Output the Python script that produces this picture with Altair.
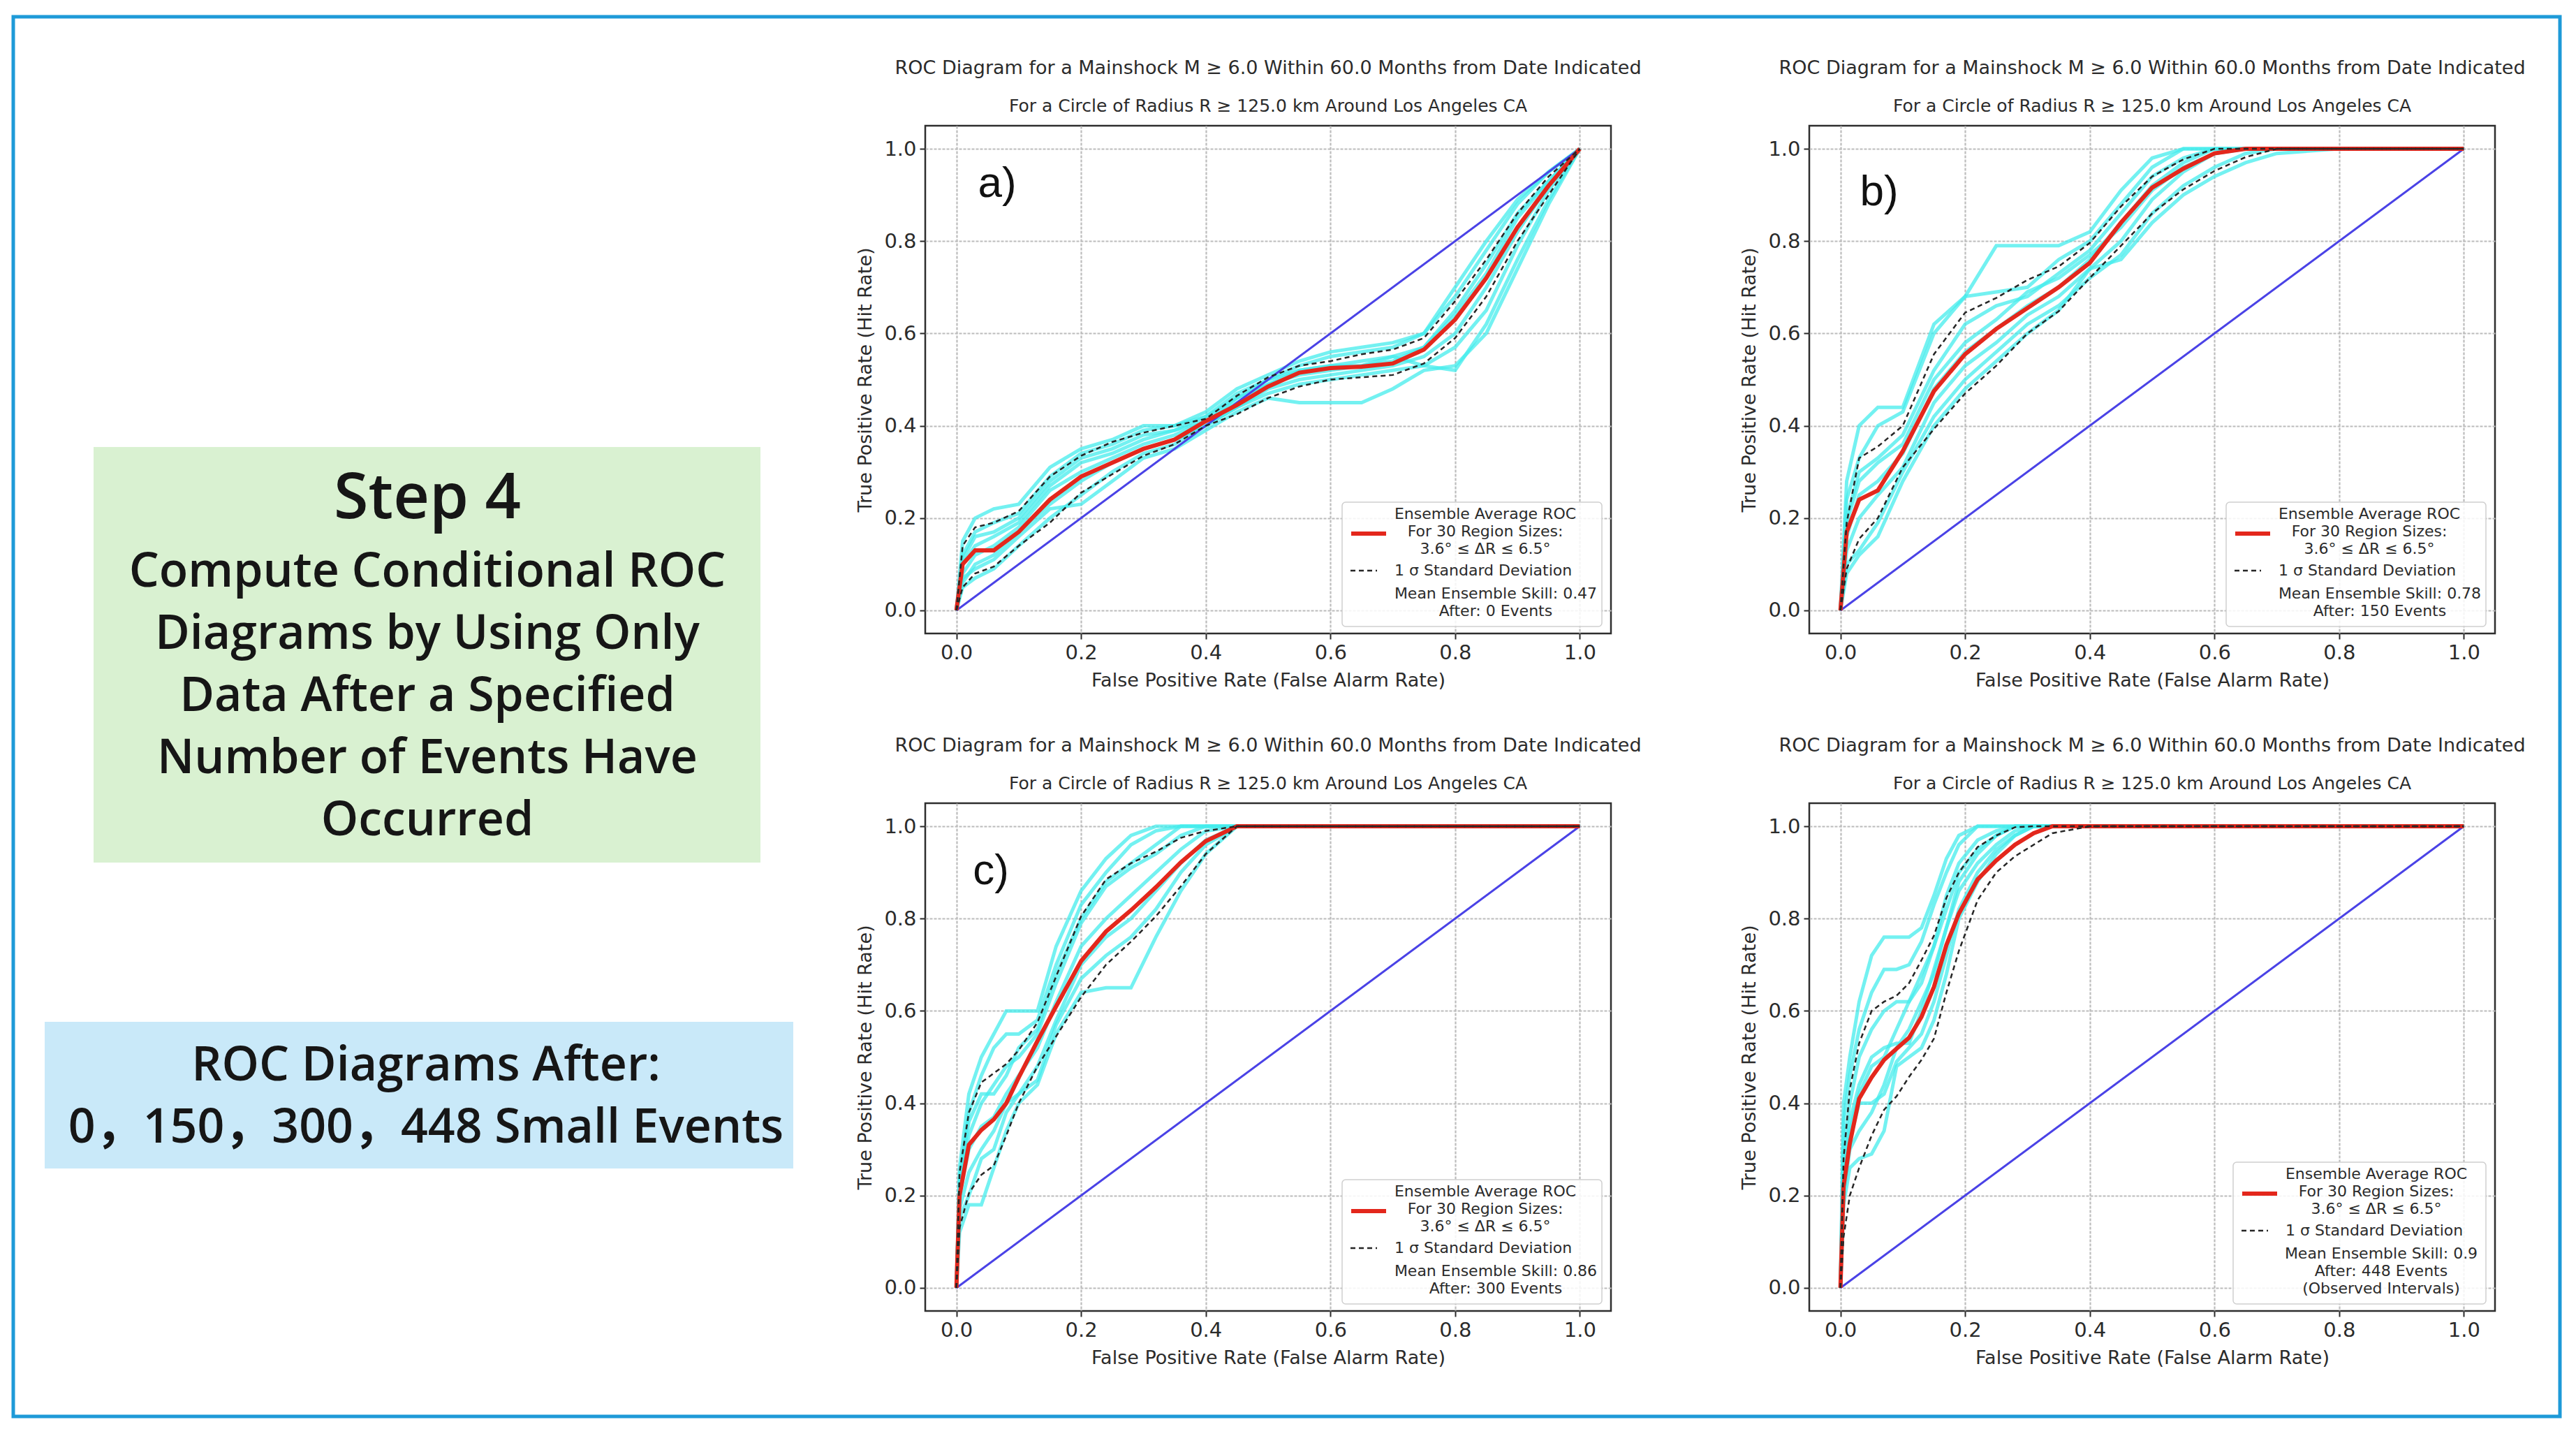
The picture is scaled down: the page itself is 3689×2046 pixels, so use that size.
import altair as alt
import pandas as pd

# ---------------------------------------------------------------- text
TITLE = "ROC Diagram for a Mainshock M \u2265 6.0 Within 60.0 Months from Date Indicated"
SUBTITLE = "For a Circle of Radius R \u2265 125.0 km Around Los Angeles CA"
X_TITLE = "False Positive Rate (False Alarm Rate)"
Y_TITLE = "True Positive Rate (Hit Rate)"
TICKS = [0.0, 0.2, 0.4, 0.6, 0.8, 1.0]
DIAG = [0.0, 1.0]

LEGEND_MEAN = ["Ensemble Average ROC", "For 30 Region Sizes:", "3.6\u00b0 \u2264 \u0394R \u2264 6.5\u00b0"]
LEGEND_STD = "1 \u03c3 Standard Deviation"

STEP_HEAD = "Step 4"
STEP_BODY = ["Compute Conditional ROC", "Diagrams by Using Only", "Data After a Specified",
             "Number of Events Have", "Occurred"]
AFTER_LINES = ["ROC Diagrams After:", "0\uff0c150\uff0c300\uff0c448 Small Events"]

# ---------------------------------------------------------------- panel a) after 0 events
A_FPR = [0, .01, .03, .06, .10, .15, .20, .25, .30, .35, .40, .45, .50, .55, .60, .65, .70, .75, .80, .85, .90, .95, 1.0]
A_MEAN = [0, .10, .13, .13, .17, .24, .29, .32, .35, .37, .41, .445, .485, .515, .525, .528, .535, .565, .63, .72, .83, .92, 1.0]
A_UPPER = [0, .14, .18, .19, .215, .29, .335, .365, .385, .40, .415, .465, .505, .53, .54, .555, .565, .59, .67, .76, .86, .94, 1.0]
A_LOWER = [0, .05, .08, .095, .14, .19, .255, .295, .335, .36, .40, .425, .46, .485, .50, .505, .51, .535, .59, .68, .80, .90, 1.0]
A_ENSEMBLE = [
    [0, .15, .20, .22, .23, .31, .35, .37, .40, .40, .43, .48, .51, .54, .56, .57, .58, .60, .70, .80, .89, .95, 1.0],
    [0, .12, .17, .19, .21, .29, .34, .36, .39, .40, .42, .47, .50, .53, .55, .56, .57, .60, .68, .78, .88, .95, 1.0],
    [0, .08, .12, .14, .18, .26, .30, .33, .36, .38, .41, .45, .49, .52, .53, .54, .55, .57, .64, .73, .85, .93, 1.0],
    [0, .06, .10, .12, .17, .23, .28, .32, .35, .37, .40, .44, .48, .50, .51, .52, .53, .55, .60, .70, .82, .92, 1.0],
    [0, .05, .07, .09, .14, .20, .25, .30, .34, .36, .40, .44, .47, .49, .50, .51, .52, .53, .57, .65, .79, .91, 1.0],
    [0, .07, .09, .11, .16, .22, .23, .28, .33, .35, .39, .43, .46, .45, .45, .45, .48, .52, .53, .60, .74, .88, 1.0],
    [0, .10, .14, .16, .19, .27, .32, .34, .37, .39, .41, .46, .50, .52, .53, .53, .55, .53, .52, .62, .76, .89, 1.0],
    [0, .11, .16, .17, .20, .28, .33, .35, .38, .39, .42, .46, .49, .51, .52, .53, .54, .57, .65, .75, .86, .93, 1.0],
]

# ---------------------------------------------------------------- panel b) after 150 events
B_FPR = [0, .01, .03, .06, .10, .15, .20, .25, .30, .35, .40, .45, .50, .55, .60, .65, .70, .80, .90, 1.0]
B_MEAN = [0, .17, .24, .26, .345, .475, .555, .61, .655, .70, .753, .84, .916, .957, .99, 1, 1, 1, 1, 1]
B_UPPER = [0, .19, .33, .355, .40, .555, .645, .677, .716, .745, .796, .875, .94, .977, 1, 1, 1, 1, 1, 1]
B_LOWER = [0, .09, .155, .20, .31, .393, .47, .53, .60, .648, .72, .79, .86, .912, .952, .982, 1, 1, 1, 1]
B_ENSEMBLE = [
    [0, .28, .40, .44, .44, .62, .68, .79, .79, .79, .82, .91, .98, 1, 1, 1, 1, 1, 1, 1],
    [0, .24, .33, .40, .43, .60, .68, .69, .70, .76, .80, .88, .96, 1, 1, 1, 1, 1, 1, 1],
    [0, .20, .30, .33, .38, .52, .62, .66, .68, .73, .78, .86, .94, .98, 1, 1, 1, 1, 1, 1],
    [0, .16, .25, .28, .34, .48, .56, .61, .66, .70, .76, .84, .92, .97, 1, 1, 1, 1, 1, 1],
    [0, .13, .20, .25, .31, .45, .53, .58, .64, .68, .74, .80, .89, .95, .99, 1, 1, 1, 1, 1],
    [0, .10, .13, .19, .30, .42, .50, .56, .62, .66, .72, .77, .86, .92, .96, .99, 1, 1, 1, 1],
    [0, .08, .12, .16, .28, .40, .48, .54, .60, .65, .74, .76, .84, .90, .94, .97, .99, 1, 1, 1],
    [0, .19, .28, .32, .36, .50, .58, .63, .69, .72, .77, .83, .91, .96, .99, 1, 1, 1, 1, 1],
]

# ---------------------------------------------------------------- panel c) after 300 events
C_FPR = [0, .005, .02, .04, .06, .08, .10, .13, .16, .20, .24, .28, .32, .36, .40, .45, .50, .60, .80, 1.0]
C_MEAN = [0, .20, .31, .342, .365, .40, .456, .535, .61, .708, .772, .818, .868, .922, .968, 1, 1, 1, 1, 1]
C_UPPER = [0, .25, .38, .445, .465, .485, .515, .575, .675, .805, .885, .92, .945, .975, .99, 1, 1, 1, 1, 1]
C_LOWER = [0, .13, .205, .245, .265, .33, .40, .48, .545, .63, .70, .75, .805, .87, .94, 1, 1, 1, 1, 1]
C_ENSEMBLE = [
    [0, .26, .42, .50, .55, .60, .60, .60, .74, .86, .93, .98, 1, 1, 1, 1, 1, 1, 1, 1],
    [0, .24, .38, .46, .52, .55, .55, .58, .70, .83, .90, .96, .99, 1, 1, 1, 1, 1, 1, 1],
    [0, .22, .33, .40, .44, .48, .50, .55, .66, .79, .87, .91, .94, .98, 1, 1, 1, 1, 1, 1],
    [0, .20, .30, .35, .37, .42, .46, .52, .62, .74, .80, .85, .90, .95, .99, 1, 1, 1, 1, 1],
    [0, .17, .25, .30, .34, .40, .42, .48, .58, .70, .76, .80, .86, .92, .97, 1, 1, 1, 1, 1],
    [0, .12, .18, .18, .26, .34, .40, .44, .55, .64, .65, .65, .76, .86, .94, 1, 1, 1, 1, 1],
    [0, .15, .20, .28, .30, .38, .42, .45, .57, .67, .72, .76, .82, .90, .96, 1, 1, 1, 1, 1],
    [0, .23, .36, .42, .42, .46, .52, .56, .68, .80, .88, .92, .96, 1, 1, 1, 1, 1, 1, 1],
]

# ---------------------------------------------------------------- panel d) after 448 events
D_FPR = [0, .005, .015, .03, .05, .07, .09, .11, .13, .15, .17, .19, .22, .25, .28, .31, .34, .40, .60, .80, 1.0]
D_MEAN = [0, .22, .313, .41, .456, .494, .518, .542, .587, .652, .743, .811, .885, .926, .96, .985, 1, 1, 1, 1, 1]
D_UPPER = [0, .28, .43, .53, .60, .62, .633, .66, .71, .763, .845, .90, .955, .98, .998, 1, 1, 1, 1, 1, 1]
D_LOWER = [0, .11, .20, .26, .33, .386, .415, .457, .494, .54, .64, .73, .84, .90, .935, .96, .985, 1, 1, 1, 1]
D_ENSEMBLE = [
    [0, .40, .50, .62, .72, .76, .76, .76, .78, .85, .93, .98, 1, 1, 1, 1, 1, 1, 1, 1, 1],
    [0, .36, .46, .56, .64, .69, .69, .70, .75, .83, .90, .96, 1, 1, 1, 1, 1, 1, 1, 1, 1],
    [0, .30, .40, .50, .56, .60, .62, .62, .66, .74, .85, .92, .97, .99, 1, 1, 1, 1, 1, 1, 1],
    [0, .26, .36, .44, .50, .52, .53, .53, .60, .69, .78, .86, .92, .96, .99, 1, 1, 1, 1, 1, 1],
    [0, .22, .32, .40, .40, .42, .49, .52, .55, .62, .72, .82, .90, .95, .98, 1, 1, 1, 1, 1, 1],
    [0, .18, .26, .28, .29, .34, .48, .50, .52, .58, .68, .80, .88, .94, .98, 1, 1, 1, 1, 1, 1],
    [0, .20, .30, .34, .38, .44, .52, .56, .62, .68, .78, .88, .94, .98, 1, 1, 1, 1, 1, 1, 1],
    [0, .25, .34, .42, .48, .50, .56, .62, .68, .74, .82, .90, .95, .98, 1, 1, 1, 1, 1, 1, 1],
]

A_SKILL = ["Mean Ensemble Skill: 0.47", "After: 0 Events"]
B_SKILL = ["Mean Ensemble Skill: 0.78", "After: 150 Events"]
C_SKILL = ["Mean Ensemble Skill: 0.86", "After: 300 Events"]
D_SKILL = ["Mean Ensemble Skill: 0.9", "After: 448 Events", "(Observed Intervals)"]

# ---------------------------------------------------------------- styling
FONT = "DejaVu Sans"
INK = "#2b2b2b"
RED = "#e3271c"
DASH = "#262626"
CYAN = "#44ecec"
DIAG_BLUE = "#4a42e6"
W, H = 982, 727
ONE = alt.Data(values=[{}])


def axis(title):
    return alt.Axis(values=TICKS, format=".1f", title=title, grid=True, gridColor="#bcbcbc",
                    gridDash=[4, 2], gridWidth=2.2, domain=False, tickSize=8, tickWidth=2,
                    tickColor=INK, labelFont=FONT, labelFontSize=29, labelColor=INK,
                    labelPadding=5, labelFlush=False, titleFont=FONT, titleFontSize=27,
                    titleFontWeight="normal", titleColor=INK, titlePadding=12)


def legend(skill):
    n = len(skill)
    bw = 372 if n == 2 else 362
    bh = 128 + 25 * n
    x0 = W - 13 - bw
    y0 = H - 10 - bh
    box = alt.Chart(ONE).mark_rect(fill="white", fillOpacity=0.85, stroke="#cfcfcf",
                                   strokeWidth=1.5, cornerRadius=5).encode(
        x=alt.value(x0), x2=alt.value(x0 + bw), y=alt.value(y0), y2=alt.value(y0 + bh))
    red = alt.Chart(ONE).mark_rule(color=RED, strokeWidth=6).encode(
        x=alt.value(x0 + 13), x2=alt.value(x0 + 63), y=alt.value(y0 + 45))
    dash = alt.Chart(ONE).mark_rule(color=DASH, strokeWidth=2.5, strokeDash=[7, 5]).encode(
        x=alt.value(x0 + 12), x2=alt.value(x0 + 50), y=alt.value(y0 + 98))
    txt = dict(font=FONT, fontSize=22, color=INK, lineHeight=25, baseline="middle")
    # multi-line labels: y is the first line's position
    t1 = alt.Chart(ONE).mark_text(align="center", **txt).encode(
        x=alt.value(x0 + 205), y=alt.value(y0 + 17), text=alt.value(LEGEND_MEAN))
    t2 = alt.Chart(ONE).mark_text(align="left", **txt).encode(
        x=alt.value(x0 + 75), y=alt.value(y0 + 98), text=alt.value(LEGEND_STD))
    t3 = alt.Chart(ONE).mark_text(align="center", **txt).encode(
        x=alt.value(x0 + (220 if n == 2 else 212)), y=alt.value(y0 + 131),
        text=alt.value(skill))
    return [box, red, dash, t1, t2, t3]


def panel(fpr, mean, upper, lower, ensemble, skill, tag=None, tag_xy=None):
    xs = alt.Scale(domain=[-0.05, 1.05], nice=False, zero=False)
    ys = alt.Scale(domain=[-0.05, 1.05], nice=False, zero=False)
    X = alt.X("fpr:Q", scale=xs, axis=axis(X_TITLE))
    Y = alt.Y("tpr:Q", scale=ys, axis=axis(Y_TITLE))

    ens = pd.DataFrame([{"fpr": f, "tpr": t, "run": i, "k": j}
                        for i, curve in enumerate(ensemble) for j, (f, t) in enumerate(zip(fpr, curve))])
    diag = pd.DataFrame({"fpr": DIAG, "tpr": DIAG})
    avg = pd.DataFrame({"fpr": fpr, "tpr": mean, "k": range(len(fpr))})
    band = pd.DataFrame([{"fpr": f, "tpr": t, "side": s, "k": j}
                         for s, vals in (("upper", upper), ("lower", lower))
                         for j, (f, t) in enumerate(zip(fpr, vals))])

    layers = [
        alt.Chart(ens).mark_line(color=CYAN, strokeWidth=5, opacity=0.75).encode(
            x=X, y=Y, detail="run:N", order="k:Q"),
        alt.Chart(diag).mark_line(color=DIAG_BLUE, strokeWidth=3).encode(x=X, y=Y),
        alt.Chart(avg).mark_line(color=RED, strokeWidth=6).encode(x=X, y=Y, order="k:Q"),
        alt.Chart(band).mark_line(color=DASH, strokeWidth=2.5, strokeDash=[7, 5]).encode(
            x=X, y=Y, detail="side:N", order="k:Q"),
    ]
    if tag:
        layers.append(alt.Chart(ONE).mark_text(font="Liberation Sans", fontSize=62, color="#111111",
                                               align="center", baseline="middle").encode(
            x=alt.value(tag_xy[0]), y=alt.value(tag_xy[1]), text=alt.value(tag)))
    layers += legend(skill)

    return alt.layer(*layers).properties(
        width=W, height=H,
        view=alt.ViewBackground(stroke="#2e2e2e", strokeWidth=2.5, fill="white"),
        title=alt.TitleParams(text=TITLE, subtitle=SUBTITLE, anchor="middle", frame="group",
                              font=FONT, fontSize=27, fontWeight="normal", color=INK,
                              subtitleFont=FONT, subtitleFontSize=25, subtitleColor=INK,
                              subtitlePadding=28, offset=14),
    )


pa = panel(A_FPR, A_MEAN, A_UPPER, A_LOWER, A_ENSEMBLE, A_SKILL, "a)", (103, 83))
pb = panel(B_FPR, B_MEAN, B_UPPER, B_LOWER, B_ENSEMBLE, B_SKILL, "b)", (100, 95))
pc = panel(C_FPR, C_MEAN, C_UPPER, C_LOWER, C_ENSEMBLE, C_SKILL, "c)", (94, 97))
pd_ = panel(D_FPR, D_MEAN, D_UPPER, D_LOWER, D_ENSEMBLE, D_SKILL)

# ---------------------------------------------------------------- left-hand notes and outer frame
SANS = "'Open Sans', 'Noto Sans CJK SC', sans-serif"
NOTE_INK = "#161616"
frame = alt.Chart(ONE).mark_rect(fill="transparent", stroke="#1e9ad8", strokeWidth=5).encode(
    x=alt.value(19), x2=alt.value(3666), y=alt.value(-156), y2=alt.value(1848))
green = alt.Chart(ONE).mark_rect(fill="#d9f1d1").encode(
    x=alt.value(134), x2=alt.value(1089), y=alt.value(460), y2=alt.value(1055))
blue = alt.Chart(ONE).mark_rect(fill="#c9e9f9").encode(
    x=alt.value(64), x2=alt.value(1136), y=alt.value(1283), y2=alt.value(1493))
head = alt.Chart(ONE).mark_text(font=SANS, fontSize=90, fontWeight=600, color=NOTE_INK,
                                align="center", baseline="middle").encode(
    x=alt.value(612), y=alt.value(535), text=alt.value(STEP_HEAD))
# multi-line notes: y is the first line's position
body = alt.Chart(ONE).mark_text(font=SANS, fontSize=68, fontWeight=600, color=NOTE_INK,
                                align="center", baseline="middle", lineHeight=89).encode(
    x=alt.value(612), y=alt.value(640), text=alt.value(STEP_BODY))
after = alt.Chart(ONE).mark_text(font=SANS, fontSize=68, fontWeight=600, color=NOTE_INK,
                                 align="center", baseline="middle", lineHeight=89).encode(
    x=alt.value(610), y=alt.value(1347), text=alt.value(AFTER_LINES))

left = alt.layer(frame, green, blue, head, body, after).properties(
    width=1200, height=1690, view=alt.ViewBackground(strokeWidth=0))

grid = alt.concat(pa, pb, pc, pd_, columns=2, spacing={"row": 243, "column": 284}, bounds="flush")

chart = alt.hconcat(left, grid, spacing=125, bounds="flush").properties(
    padding={"left": 0, "top": 21, "right": 0, "bottom": 0}, background="white")

chart.save("out.html", embed_options={"renderer": "svg", "actions": False})
